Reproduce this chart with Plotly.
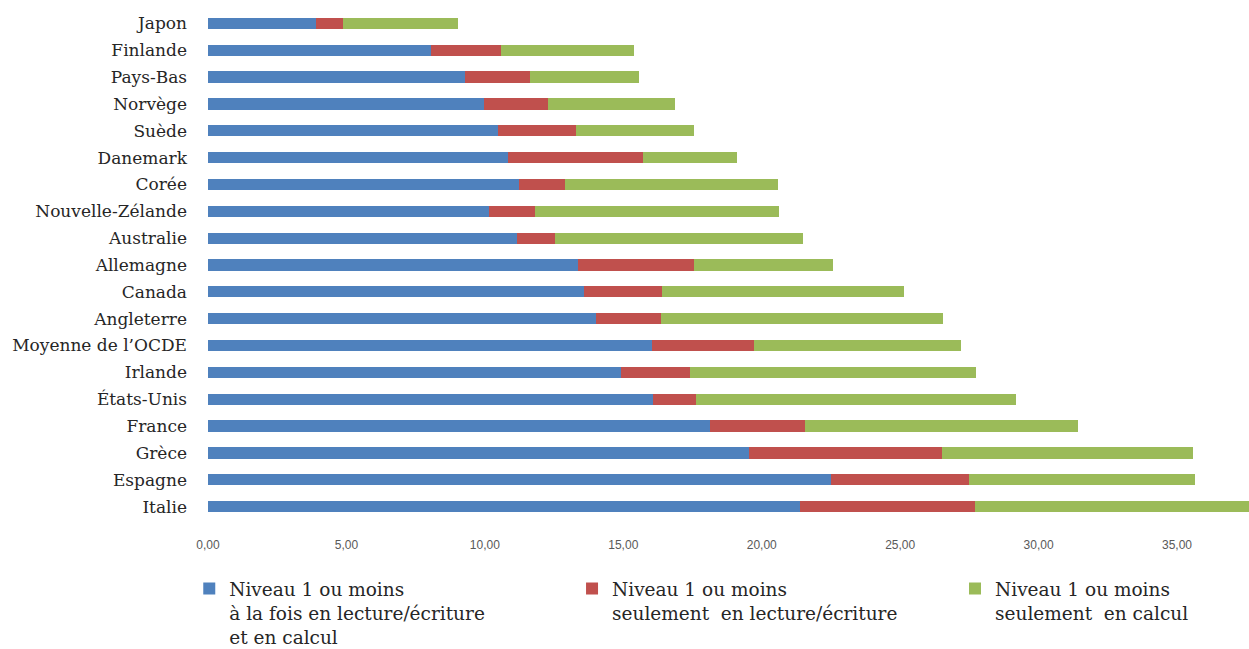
import plotly.graph_objects as go

pays = ["Japon", "Finlande", "Pays-Bas", "Norvège", "Suède", "Danemark", "Corée",
        "Nouvelle-Zélande", "Australie", "Allemagne", "Canada", "Angleterre",
        "Moyenne de l\u2019OCDE", "Irlande", "États-Unis", "France", "Grèce",
        "Espagne", "Italie"]

# Niveau 1 ou moins à la fois en lecture/écriture et en calcul
lecture_et_calcul = [3.90, 8.05, 9.29, 9.96, 10.46, 10.82, 11.23, 10.16, 11.16, 13.37,
                     13.57, 14.00, 16.04, 14.91, 16.09, 18.12, 19.54, 22.49, 21.37]
# Niveau 1 ou moins seulement en lecture/écriture
lecture_seule = [0.97, 2.55, 2.34, 2.33, 2.84, 4.90, 1.67, 1.65, 1.38, 4.18,
                 2.83, 2.36, 3.68, 2.49, 1.55, 3.43, 6.96, 5.00, 6.33]
# Niveau 1 ou moins seulement en calcul
calcul_seul = [4.17, 4.79, 3.92, 4.58, 4.25, 3.40, 7.69, 8.83, 8.95, 5.03,
               8.73, 10.19, 7.46, 10.35, 11.53, 9.88, 9.07, 8.16, 10.30]

ticks = [0, 5, 10, 15, 20, 25, 30, 35]
tick_labels = ["0,00", "5,00", "10,00", "15,00", "20,00", "25,00", "30,00", "35,00"]

series = [
    ("Niveau 1 ou moins<br>à la fois en lecture/écriture<br>et en calcul", lecture_et_calcul, "#4F81BD", "legend"),
    ("Niveau 1 ou moins<br>seulement  en lecture/écriture", lecture_seule, "#C0504D", "legend2"),
    ("Niveau 1 ou moins<br>seulement  en calcul", calcul_seul, "#9BBB59", "legend3"),
]

fig = go.Figure()
for name, vals, col, lg in series:
    fig.add_trace(go.Bar(
        y=pays, x=vals, name=name, orientation="h",
        marker=dict(color=col, line=dict(width=0)),
        width=0.42, legend=lg,
    ))

serif = "DejaVu Serif, Liberation Serif, serif"
leg_common = dict(
    orientation="v", xanchor="left", y=-0.098, yanchor="top",
    font=dict(family=serif, size=18.5, color="#262626"),
    valign="top", bgcolor="rgba(0,0,0,0)",
)
fig.update_layout(
    width=1249, height=649,
    barmode="stack",
    plot_bgcolor="white", paper_bgcolor="white",
    margin=dict(l=208, r=0, t=10, b=129, autoexpand=False),
    xaxis=dict(
        range=[0, 37.6], tickvals=ticks, ticktext=tick_labels,
        showgrid=False, zeroline=False, showline=False,
        tickfont=dict(family="Liberation Sans Narrow, Arial Narrow, Liberation Sans, sans-serif",
                      size=12, color="#595959"),
        ticks="", ticklabelstandoff=16,
    ),
    yaxis=dict(
        autorange="reversed", showgrid=False, zeroline=False, showline=False,
        tickfont=dict(family=serif, size=17, color="#262626"),
        ticks="", ticklabelstandoff=20,
    ),
    legend=dict(x=-0.018, **leg_common),
    legend2=dict(x=0.3497, **leg_common),
    legend3=dict(x=0.7176, **leg_common),
    showlegend=True,
)

fig.write_html("out.html")
